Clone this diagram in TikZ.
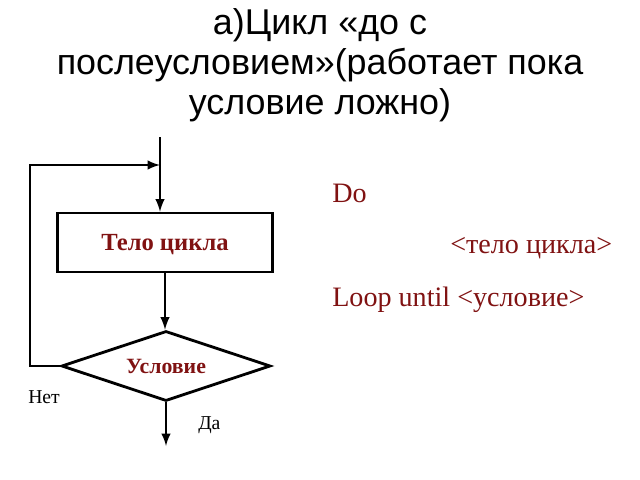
\documentclass[tikz,border=0pt]{standalone}
\usepackage{fontspec}
\setmainfont{Liberation Serif}
\newfontfamily\titlefont{Liberation Sans}
\usepackage{tikz}
\usetikzlibrary{arrows,shapes.geometric,positioning,calc}
\definecolor{codered}{RGB}{128,18,18}

\begin{document}
\begin{tikzpicture}[x=0.025cm,y=-0.025cm,
  line/.style={line width=2pt},
  arrow/.style={line,-latex},
  block/.style={draw,line width=2pt,minimum width=5.375cm,minimum height=1.475cm,inner sep=0pt,text depth=0pt,
    font=\bfseries\fontsize{17.5}{20}\selectfont,text=codered},
  decision/.style={draw,diamond,line width=2pt,minimum width=5.225cm,minimum height=1.75cm,aspect=3,inner sep=0pt,
    font=\bfseries\fontsize{15.5}{18}\selectfont,text=codered},
  code/.style={anchor=base west,inner sep=0pt,text=codered,font=\fontsize{20}{24}\selectfont},
  answer/.style={anchor=base west,inner sep=0pt,font=\fontsize{14}{16}\selectfont}]
\useasboundingbox (0,0) rectangle (640,480);
% title
\node[align=center,font=\titlefont\fontsize{25.5}{28.4}\selectfont] (title) at (320,65)
  {а)Цикл «до с\\послеусловием»(работает пока\\условие ложно)};
% flowchart
\node[block] (body) at (165,242.5) {Тело цикла};
\node[decision] (cond) at (166,366) {Условие};
\coordinate (in) at (160,137);
\coordinate (join) at (160,165);
\coordinate (out) at (166,446);
\draw[arrow] (in) -- (in |- body.north);
\draw[arrow] (body.south) -- (body.south |- cond.north);
\draw[arrow] (cond.west) -- ++(-30,0) |- (join);
\draw[arrow] (cond.south) -- (out);
\node[answer] (no) at (28,403) {Нет};
\node[answer] (yes) at (198,429) {Да};
% code
\node[code] (do) at (332,202) {Do};
\node[code] (loopbody) at (450,253) {<тело цикла>};
\node[code] (until) at (332,306) {Loop until <условие>};
\end{tikzpicture}
\end{document}
